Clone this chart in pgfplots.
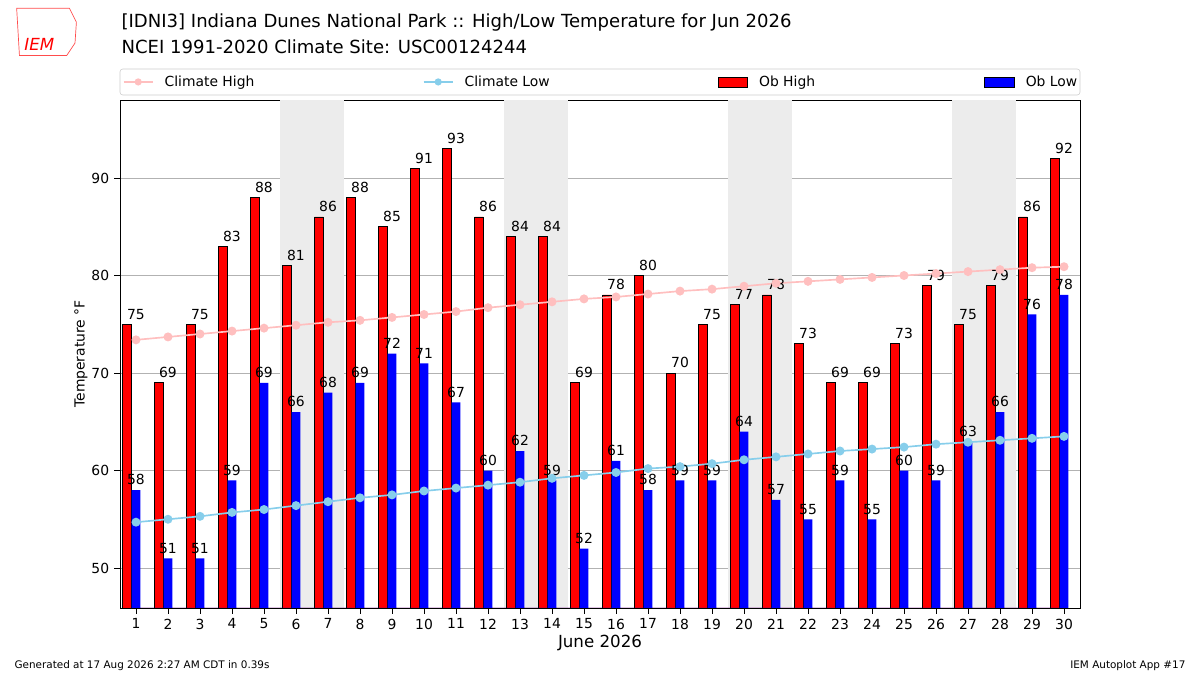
\documentclass[border=0pt]{standalone}
\usepackage{pgfplots}
\pgfplotsset{compat=1.18}
\usepackage{fontspec}
\setmainfont{DejaVu Sans}
\begin{document}
\begin{tikzpicture}[x=1pt,y=1pt]
\useasboundingbox (0,0) rectangle (864,486);
\begin{axis}[
  at={(86.4pt,48.24pt)}, anchor=south west, scale only axis,
  width=691.2pt, height=365.76pt,
  xmin=0.5, xmax=30.5, ymin=45.9, ymax=98,
  xtick={1,...,30}, ytick={50,60,70,80,90},
  xtick pos=bottom, ytick pos=left,
  ymajorgrids, grid style={gray!60, line width=0.6pt},
  tick style={black}, tick align=outside,
  ticklabel style={font=\fontsize{10}{12}\selectfont},
  /pgf/number format/assume math mode=true,
  xlabel={\fontsize{12}{14}\selectfont June 2026},
  ylabel={\fontsize{10}{12}\selectfont Temperature °F},
  xlabel style={yshift=3pt},
  ylabel style={yshift=-4pt},
  nodes near coords style={font=\fontsize{10}{12}\selectfont, black},
  clip=false,
]
\fill[gray!15] (axis cs:5.5,45.9) rectangle (axis cs:7.5,98);
\fill[gray!15] (axis cs:12.5,45.9) rectangle (axis cs:14.5,98);
\fill[gray!15] (axis cs:19.5,45.9) rectangle (axis cs:21.5,98);
\fill[gray!15] (axis cs:26.5,45.9) rectangle (axis cs:28.5,98);
\addplot[ybar, bar width=6.4pt, bar shift=-6.5pt, fill=red, draw=black, line width=0.5pt, nodes near coords, nodes near coords align={vertical}] coordinates {
(1,75)(2,69)(3,75)(4,83)(5,88)(6,81)(7,86)(8,88)(9,85)(10,91)(11,93)(12,86)(13,84)(14,84)(15,69)(16,78)(17,80)(18,70)(19,75)(20,77)(21,78)(22,73)(23,69)(24,69)(25,73)(26,79)(27,75)(28,79)(29,86)(30,92)} \closedcycle;
\addplot[ybar, bar width=6.4pt, bar shift=0pt, fill=blue, draw=none, nodes near coords, nodes near coords align={vertical}] coordinates {
(1,58)(2,51)(3,51)(4,59)(5,69)(6,66)(7,68)(8,69)(9,72)(10,71)(11,67)(12,60)(13,62)(14,59)(15,52)(16,61)(17,58)(18,59)(19,59)(20,64)(21,57)(22,55)(23,59)(24,55)(25,60)(26,59)(27,63)(28,66)(29,76)(30,78)} \closedcycle;
\addplot[pink, line width=1.2pt, mark=*, mark size=2.6pt, mark options={fill=pink,draw=pink}] coordinates {
(1,73.4)(2,73.7)(3,74.0)(4,74.3)(5,74.6)(6,74.9)(7,75.2)(8,75.4)(9,75.7)(10,76.0)(11,76.3)(12,76.7)(13,77.0)(14,77.3)(15,77.6)(16,77.8)(17,78.1)(18,78.4)(19,78.6)(20,78.9)(21,79.2)(22,79.4)(23,79.6)(24,79.8)(25,80.0)(26,80.2)(27,80.4)(28,80.6)(29,80.8)(30,80.9)};
\addplot[color={rgb,255:red,135;green,206;blue,235}, line width=1.2pt, mark=*, mark size=2.6pt] coordinates {
(1,54.7)(2,55.0)(3,55.3)(4,55.7)(5,56.0)(6,56.4)(7,56.8)(8,57.2)(9,57.5)(10,57.9)(11,58.2)(12,58.5)(13,58.8)(14,59.2)(15,59.5)(16,59.8)(17,60.2)(18,60.4)(19,60.7)(20,61.1)(21,61.4)(22,61.7)(23,62.0)(24,62.2)(25,62.4)(26,62.7)(27,62.9)(28,63.1)(29,63.3)(30,63.5)};
\end{axis}
% legend
\draw[gray!40, rounded corners=2pt, fill=white] (86.4,417.6) rectangle (777.6,436.3);
\definecolor{skyb}{RGB}{135,206,235}
\def\ly{423.5}
\draw[pink, line width=1.2pt] (89,427) -- (110,427); \fill[pink] (99.5,427) circle (2.6pt);
\node[anchor=base west, font=\fontsize{10}{12}\selectfont] at (115,\ly) {Climate High};
\draw[skyb, line width=1.2pt] (305,427) -- (326,427); \fill[skyb] (315.5,427) circle (2.6pt);
\node[anchor=base west, font=\fontsize{10}{12}\selectfont] at (331,\ly) {Climate Low};
\draw[fill=red] (517,423.5) rectangle (538,430.5);
\node[anchor=base west, font=\fontsize{10}{12}\selectfont] at (543,\ly) {Ob High};
\draw[fill=blue, draw=black] (709,423.5) rectangle (730,430.5);
\node[anchor=base west, font=\fontsize{10}{12}\selectfont] at (735,\ly) {Ob Low};
% titles
\node[anchor=west, font=\fontsize{13}{15}\selectfont] at (84,470) {[IDNI3] Indiana Dunes National Park :: High/Low Temperature for Jun 2026};
\node[anchor=west, font=\fontsize{13}{15}\selectfont] at (84,452) {NCEI 1991-2020 Climate Site: USC00124244};
\draw[red!70, line width=0.5pt] (12,480) -- (50,480) -- (55,470) -- (54,455) -- (48,446) -- (14,446) -- cycle;
\node[anchor=west, text=red, font=\fontsize{12}{14}\selectfont\itshape] at (14,454) {IEM};
\node[anchor=west, font=\fontsize{7.5}{9}\selectfont] at (7,7) {Generated at 17 Aug 2026 2:27 AM CDT in 0.39s};
\node[anchor=east, font=\fontsize{7.5}{9}\selectfont] at (857,7) {IEM Autoplot App \#17};
\end{tikzpicture}
\end{document}
